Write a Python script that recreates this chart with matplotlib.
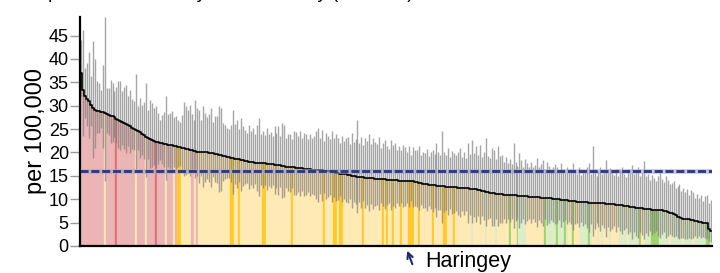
import matplotlib
matplotlib.use("Agg")
import matplotlib.pyplot as plt
import numpy as np

plt.rcParams["font.family"] = ["Liberation Sans", "DejaVu Sans"]

# rate per 100,000, one value per local authority, sorted high to low
rate = [
    37.0, 33.3, 32.0, 31.5, 31.0, 30.2, 29.5, 29.1, 28.9, 28.8,
    28.7, 28.6, 28.4, 28.3, 28.1, 27.9, 27.7, 27.5, 27.2, 27.0,
    26.8, 26.6, 26.4, 26.1, 25.9, 25.6, 25.3, 25.0, 24.8, 24.6,
    24.3, 24.0, 23.7, 23.4, 23.1, 22.9, 22.7, 22.5, 22.3, 22.2,
    22.1, 22.0, 21.9, 21.8, 21.7, 21.6, 21.5, 21.4, 21.3, 21.2,
    21.1, 21.0, 20.9, 20.8, 20.7, 20.6, 20.5, 20.4, 20.3, 20.2,
    20.2, 20.1, 20.1, 20.0, 20.0, 19.9, 19.9, 19.8, 19.7, 19.6,
    19.5, 19.4, 19.3, 19.2, 19.1, 19.0, 18.9, 18.8, 18.7, 18.6,
    18.5, 18.4, 18.3, 18.2, 18.1, 18.0, 17.9, 17.9, 17.8, 17.8,
    17.8, 17.7, 17.7, 17.7, 17.6, 17.6, 17.5, 17.5, 17.4, 17.4,
    17.3, 17.3, 17.2, 17.1, 17.0, 17.0, 16.9, 16.9, 16.8, 16.7,
    16.7, 16.6, 16.6, 16.5, 16.5, 16.4, 16.4, 16.3, 16.3, 16.3,
    16.2, 16.2, 16.2, 16.1, 16.1, 16.1, 16.0, 15.9, 15.8, 15.7,
    15.6, 15.5, 15.5, 15.4, 15.3, 15.2, 15.1, 15.0, 15.0, 14.9,
    14.8, 14.8, 14.7, 14.7, 14.6, 14.6, 14.5, 14.5, 14.5, 14.4,
    14.4, 14.4, 14.3, 14.3, 14.3, 14.2, 14.2, 14.2, 14.1, 14.1,
    14.1, 14.0, 14.0, 14.0, 14.0, 13.9, 13.9, 13.9, 13.8, 13.7,
    13.6, 13.5, 13.4, 13.3, 13.2, 13.2, 13.1, 13.1, 13.0, 13.0,
    12.9, 12.9, 12.8, 12.8, 12.8, 12.7, 12.7, 12.7, 12.6, 12.6,
    12.6, 12.5, 12.5, 12.4, 12.4, 12.3, 12.3, 12.2, 12.2, 12.1,
    12.1, 12.0, 11.9, 11.8, 11.7, 11.6, 11.5, 11.4, 11.4, 11.3,
    11.2, 11.2, 11.1, 11.1, 11.0, 11.0, 10.9, 10.9, 10.8, 10.8,
    10.8, 10.7, 10.7, 10.7, 10.6, 10.6, 10.6, 10.5, 10.5, 10.5,
    10.4, 10.4, 10.4, 10.3, 10.3, 10.3, 10.2, 10.2, 10.2, 10.1,
    10.1, 10.0, 10.0, 9.9, 9.9, 9.8, 9.8, 9.7, 9.7, 9.6,
    9.6, 9.5, 9.5, 9.5, 9.4, 9.4, 9.4, 9.3, 9.3, 9.3,
    9.2, 9.2, 9.2, 9.1, 9.1, 9.1, 9.0, 9.0, 9.0, 8.9,
    8.9, 8.8, 8.8, 8.7, 8.7, 8.6, 8.5, 8.5, 8.4, 8.3,
    8.3, 8.2, 8.2, 8.1, 8.1, 8.0, 8.0, 7.9, 7.9, 7.8,
    7.8, 7.7, 7.7, 7.6, 7.6, 7.5, 7.4, 7.3, 7.1, 7.0,
    6.8, 6.6, 6.3, 6.1, 5.9, 5.8, 5.8, 5.7, 5.7, 5.6,
    5.5, 5.4, 5.3, 5.2, 5.1, 5.0, 5.0, 4.9, 3.6, 3.3,
]

upper = [
    44.0, 46.3, 38.1, 39.2, 41.6, 36.3, 43.8, 39.9, 35.2, 34.9,
    33.4, 38.8, 49.0, 33.8, 33.9, 35.6, 34.9, 33.1, 34.1, 35.2,
    35.2, 33.1, 34.0, 34.5, 32.0, 33.4, 31.4, 31.0, 36.8, 29.9,
    31.6, 30.2, 30.7, 34.9, 29.1, 31.3, 30.6, 29.5, 29.9, 28.5,
    27.0, 28.0, 28.6, 32.0, 28.2, 28.5, 28.8, 27.5, 27.8, 27.0,
    26.5, 28.0, 30.9, 30.0, 29.1, 30.2, 28.2, 27.0, 31.3, 29.5,
    29.1, 27.0, 30.0, 28.5, 27.5, 28.2, 29.6, 26.6, 27.9, 27.8,
    30.0, 29.6, 26.4, 25.8, 25.2, 25.0, 25.9, 29.1, 26.0, 27.0,
    25.0, 27.3, 25.7, 24.8, 24.2, 25.9, 24.5, 25.2, 24.0, 25.9,
    27.3, 24.0, 24.6, 23.8, 25.2, 24.0, 24.3, 23.5, 25.7, 24.2,
    25.7, 23.5, 26.4, 25.9, 23.0, 24.0, 23.9, 22.8, 24.6, 24.3,
    23.5, 24.5, 23.0, 24.2, 23.9, 22.8, 24.0, 23.2, 23.6, 24.6,
    25.2, 23.0, 24.9, 22.5, 24.2, 23.6, 22.8, 24.5, 23.0, 23.9,
    23.2, 22.0, 23.6, 22.5, 23.0, 23.4, 21.8, 24.2, 22.3, 22.9,
    27.0, 22.0, 23.4, 21.5, 23.2, 22.5, 23.9, 21.8, 23.2, 22.3,
    21.9, 23.4, 21.0, 22.1, 22.7, 21.4, 20.8, 22.7, 21.5, 22.1,
    20.6, 21.4, 20.5, 21.6, 21.2, 20.0, 21.4, 19.5, 21.2, 20.5,
    20.6, 21.4, 19.5, 20.2, 19.9, 20.8, 19.2, 20.0, 20.6, 19.6,
    22.0, 20.0, 19.5, 24.5, 20.2, 19.4, 20.9, 19.0, 20.3, 19.9,
    19.5, 20.2, 20.9, 19.0, 20.0, 18.8, 22.0, 19.6, 22.7, 19.8,
    21.3, 19.5, 21.6, 19.0, 20.0, 23.1, 19.2, 18.8, 20.9, 20.6,
    18.5, 21.3, 19.2, 19.4, 18.0, 19.0, 17.7, 18.6, 17.5, 22.0,
    18.0, 17.2, 19.9, 18.3, 17.0, 18.5, 17.7, 16.9, 17.9, 16.8,
    17.4, 18.9, 16.8, 17.5, 18.4, 16.5, 18.0, 17.2, 16.3, 16.8,
    17.5, 16.8, 16.0, 17.7, 16.3, 15.6, 16.8, 15.9, 16.5, 17.7,
    16.0, 15.5, 16.8, 15.2, 16.3, 15.8, 16.9, 17.7, 15.4, 21.3,
    16.5, 15.0, 16.0, 16.8, 15.4, 16.2, 18.4, 15.6, 16.6, 16.0,
    15.2, 16.5, 15.0, 16.2, 16.8, 15.5, 14.8, 16.5, 15.6, 17.4,
    15.4, 16.2, 16.8, 14.9, 15.7, 18.1, 15.0, 15.5, 14.2, 15.2,
    14.5, 13.8, 15.0, 15.6, 14.3, 13.6, 14.9, 14.1, 13.2, 13.4,
    13.8, 12.5, 12.9, 13.2, 11.8, 12.4, 11.6, 12.2, 11.0, 11.9,
    11.5, 10.3, 11.2, 10.2, 10.9, 9.6, 10.6, 10.9, 9.3, 9.9,
]

lower = [
    31.8, 23.6, 27.4, 25.7, 23.1, 25.6, 18.8, 21.0, 24.2, 24.2,
    25.2, 21.0, 14.0, 24.2, 23.8, 22.1, 22.3, 23.3, 22.0, 20.9,
    20.5, 21.7, 20.7, 19.8, 21.3, 19.8, 20.7, 20.5, 15.8, 20.6,
    18.8, 19.4, 18.5, 14.8, 18.6, 16.6, 16.8, 17.3, 16.6, 17.5,
    18.4, 17.5, 16.9, 14.2, 16.8, 16.4, 16.0, 16.8, 16.4, 16.9,
    17.1, 16.3, 15.0, 15.2, 15.6, 15.0, 16.0, 16.2, 14.5, 15.0,
    13.5, 14.9, 12.7, 13.6, 14.4, 13.7, 12.6, 14.7, 13.6, 13.5,
    11.6, 11.8, 14.0, 14.3, 14.5, 14.5, 13.7, 11.1, 13.2, 12.3,
    13.6, 11.7, 12.8, 13.3, 13.5, 12.1, 13.0, 12.4, 13.2, 11.7,
    10.7, 13.0, 12.5, 13.1, 11.9, 12.8, 12.4, 13.0, 11.2, 12.3,
    11.0, 12.6, 10.3, 10.5, 12.5, 11.7, 11.6, 12.5, 10.9, 11.0,
    11.6, 10.7, 11.8, 10.7, 10.9, 11.6, 10.7, 11.1, 10.8, 10.1,
    9.5, 11.1, 9.7, 11.3, 10.0, 10.5, 10.9, 9.5, 10.4, 9.6,
    9.9, 10.6, 9.4, 10.1, 9.5, 9.1, 10.1, 8.1, 9.5, 8.9,
    7.0, 9.4, 8.2, 9.6, 8.2, 8.7, 7.5, 9.0, 8.0, 8.5,
    8.8, 7.7, 9.3, 8.5, 8.0, 8.8, 9.3, 7.8, 8.6, 8.1,
    9.2, 8.5, 9.1, 8.3, 8.6, 9.3, 8.3, 9.7, 8.3, 8.6,
    8.4, 7.6, 8.8, 8.1, 8.2, 7.5, 8.5, 7.9, 7.3, 8.1,
    6.1, 7.6, 7.8, 5.0, 7.3, 7.7, 6.6, 8.0, 6.8, 7.1,
    7.4, 6.7, 6.2, 7.5, 6.7, 7.4, 5.0, 6.7, 5.0, 6.3,
    5.2, 6.4, 4.6, 6.4, 5.5, 4.2, 5.7, 5.9, 4.3, 4.3,
    5.7, 4.3, 5.0, 4.9, 5.8, 5.0, 5.8, 5.1, 5.8, 3.8,
    5.4, 5.8, 3.8, 5.0, 5.8, 4.7, 5.3, 5.7, 5.0, 5.8,
    5.2, 4.0, 5.6, 4.9, 4.2, 5.7, 4.4, 5.0, 5.6, 5.1,
    4.6, 4.9, 5.5, 4.1, 5.1, 5.5, 4.6, 5.1, 4.6, 3.5,
    4.8, 5.0, 4.0, 5.2, 4.2, 4.6, 3.8, 3.0, 4.7, 2.2,
    3.7, 4.9, 4.1, 3.3, 4.4, 3.8, 2.0, 4.0, 3.3, 3.6,
    4.2, 3.0, 4.1, 3.1, 2.6, 3.4, 3.8, 2.5, 3.0, 1.5,
    3.0, 2.2, 1.8, 3.0, 2.4, 1.5, 2.8, 2.2, 3.2, 2.3,
    2.8, 3.1, 2.2, 1.6, 2.6, 2.9, 1.8, 2.2, 2.5, 2.2,
    2.0, 2.2, 1.6, 1.5, 1.8, 1.6, 1.5, 1.4, 1.7, 1.5,
    1.8, 2.2, 1.6, 2.1, 1.6, 2.0, 1.7, 1.5, 1.0, 0.9,
]

# r/R worse, y/Y similar, g/G better; capitals = London boroughs
category = (
    "rrrrrrrrrr" "rryrrrrrRr" "rrrrrrrryr" "rrryrrrrRr"
    "rrryrrryrY" "Yyyyyyrryr" "yyyyyyyyyy" "yyyyyyYYyy"
    "Yyyyyyyyyy" "yyYYyyyyyy" "yyyyyyyYyy" "yyyyyyyyyy"
    "yyyYyyyyYY" "yYYyyyyyyy" "yyyYyyyyyy" "yyyYyYyyYy"
    "yyYyyyYYYy" "yYyyyyyyYy" "yyyyYYyyyY" "yyyyyyyygy"
    "yyyyygyyyy" "gyyyyyyGyy" "yGggggyyyy" "yyyyyGgggg"
    "gGgggGgyyG" "yyyggggGgy" "yygygyyygy" "yyyggggygg"
    "gggGyygggG" "GGGgggggyg" "gggggygggg" "yggggggGGg"
)

england = 16.1
highlight_index = 167
highlight_name = "Haringey"
yticks = [0, 5, 10, 15, 20, 25, 30, 35, 40, 45]

palette = {
    "r": "#ebb5b5", "R": "#e07070",
    "y": "#ffe9b4", "Y": "#ffc92a",
    "g": "#dcedc8", "G": "#9fd36c",
}

n = len(rate)
x = np.arange(n)
colors = [palette[c] for c in category]

fig = plt.figure(figsize=(7.2, 2.73), dpi=100)
ax = fig.add_axes([0.111, 0.099, 0.878, 0.839])

ax.bar(x, rate, width=1.0, color=colors, edgecolor=colors, linewidth=0.2, zorder=1)
ax.vlines(x, lower, upper, color="#808080", linewidth=1.0, alpha=0.7, zorder=2)
ax.plot(x, rate, drawstyle="steps-mid", color="black", linewidth=1.2, zorder=3)

ax.axhline(england, color="#a3a8cc", linewidth=3.5, alpha=0.6, zorder=4)
ax.axhline(england, color="#2b3580", linewidth=2, dashes=(2.9, 1.0), zorder=5)

ax.set_xlim(-0.5, n - 0.5)
ax.set_ylim(0, 49)
ax.set_xticks([])
ax.set_yticks(yticks)
ax.tick_params(axis="y", length=7, width=1, color="#999999", labelsize=13, pad=1)
for side in ["top", "right"]:
    ax.spines[side].set_visible(False)
for side in ["left", "bottom"]:
    ax.spines[side].set_linewidth(1.6)
    ax.spines[side].set_zorder(6)
ax.set_ylabel("per 100,000", fontsize=17, labelpad=1)

ax.annotate(
    "", xy=(highlight_index - 1.8, -1.0), xytext=(highlight_index + 0.8, -3.9),
    arrowprops=dict(arrowstyle="->", color="#1f2a6b", lw=1.5, shrinkA=0, shrinkB=0),
    annotation_clip=False,
)
fig.text(425 / 720, 6.5 / 273, highlight_name, fontsize=15.5, va="baseline")

# title sits above the canvas in the source image, only its descenders show
fig.text(414 / 720, 1 + 2.5 / 273, "Hospital admissions by local authority (2014-16)",
         fontsize=13.5, ha="right", va="baseline")

fig.savefig("out.png", dpi=100)
